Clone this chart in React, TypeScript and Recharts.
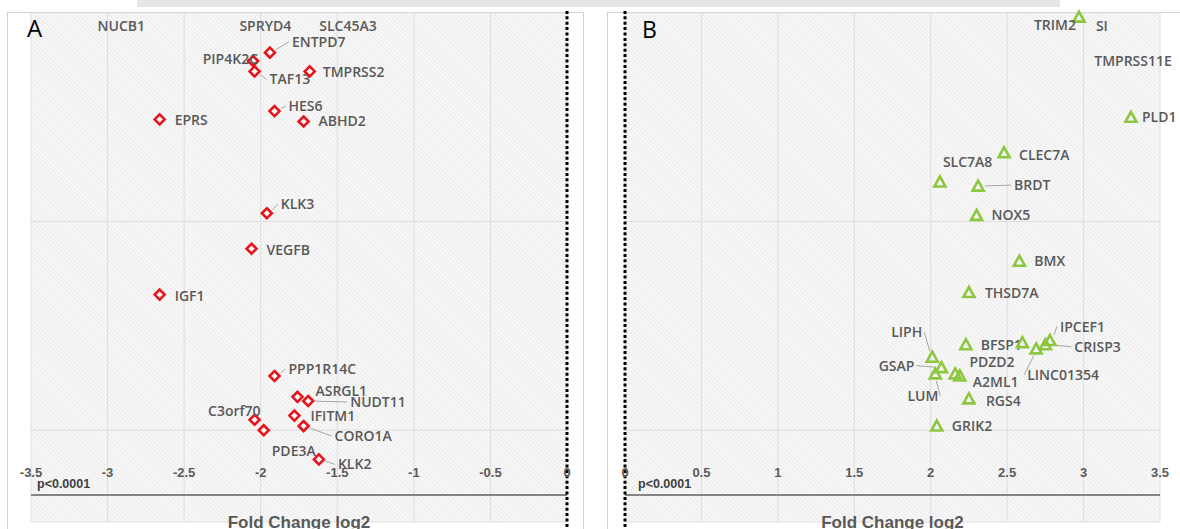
import { ScatterChart, Scatter, XAxis, YAxis, CartesianGrid, ReferenceLine } from 'recharts';

// Panel A: down-regulated genes
const genesA = ['ENTPD7', 'PIP4K2C', 'TAF13', 'HES6', 'EPRS', 'TMPRSS2', 'ABHD2', 'KLK3', 'VEGFB', 'IGF1', 'PPP1R14C', 'ASRGL1', 'NUDT11', 'IFITM1', 'CORO1A', 'KLK2', 'C3orf70', 'PDE3A'];
const foldA = [-1.94, -2.05, -2.04, -1.91, -2.66, -1.68, -1.72, -1.96, -2.06, -2.66, -1.91, -1.76, -1.69, -1.78, -1.72, -1.62, -2.04, -1.98];
const sigA = [2.81, 2.77, 2.72, 2.53, 2.49, 2.72, 2.48, 2.04, 1.87, 1.65, 1.26, 1.16, 1.14, 1.07, 1.02, 0.86, 1.05, 1.0];
const topGenesA = ['NUCB1', 'SPRYD4', 'SLC45A3'];
const topFoldA = [-2.91, -1.97, -1.43];
const topSigA = [2.94, 2.94, 2.94];

// Panel B: up-regulated genes
const genesB = ['TRIM2', 'PLD1', 'CLEC7A', 'SLC7A8', 'BRDT', 'NOX5', 'BMX', 'THSD7A', 'LIPH', 'BFSP1', 'PDZD2', 'LINC01354', 'CRISP3', 'IPCEF1', 'GSAP', 'LUM', '', 'A2ML1', 'RGS4', 'GRIK2'];
const foldB = [2.97, 3.31, 2.48, 2.06, 2.31, 2.3, 2.58, 2.25, 2.01, 2.23, 2.6, 2.69, 2.75, 2.78, 2.07, 2.03, 2.16, 2.19, 2.25, 2.04];
const sigB = [2.98, 2.5, 2.33, 2.19, 2.17, 2.03, 1.81, 1.66, 1.35, 1.41, 1.42, 1.39, 1.41, 1.43, 1.3, 1.27, 1.27, 1.26, 1.15, 1.02];
const topGenesB = ['SI', 'TMPRSS11E'];
const topFoldB = [3.12, 3.07];
const topSigB = [2.94, 2.77];

const ticksA = [-3.5, -3, -2.5, -2, -1.5, -1, -0.5, 0];
const ticksB = [0, 0.5, 1, 1.5, 2, 2.5, 3, 3.5];
const pCut = 0.69;

// label placement: [dx, dy, anchor, leader]
const labelPos: Record<string, [number, number, string, boolean]> = {
  ENTPD7: [22, -11, 'start', true],
  PIP4K2C: [5, -2, 'end', false],
  TAF13: [15, 8, 'start', true],
  HES6: [14, -5, 'start', true],
  EPRS: [15, 1, 'start', false],
  TMPRSS2: [13, 1, 'start', false],
  ABHD2: [15, 0, 'start', false],
  KLK3: [14, -9, 'start', true],
  VEGFB: [15, 1, 'start', false],
  IGF1: [15, 1, 'start', false],
  PPP1R14C: [14, -7, 'start', true],
  ASRGL1: [18, -6, 'start', false],
  NUDT11: [42, 1, 'start', true],
  IFITM1: [16, 0, 'start', false],
  CORO1A: [31, 10, 'start', true],
  KLK2: [19, 5, 'start', true],
  C3orf70: [6, -9, 'end', false],
  PDE3A: [8, 21, 'start', false],
  TRIM2: [-3, 8, 'end', false],
  PLD1: [11, 0, 'start', false],
  CLEC7A: [15, 2, 'start', false],
  SLC7A8: [3, -20, 'start', false],
  BRDT: [36, -1, 'start', true],
  NOX5: [15, 0, 'start', false],
  BMX: [15, 0, 'start', false],
  THSD7A: [16, 0, 'start', false],
  LIPH: [-10, -25, 'end', true],
  BFSP1: [15, 0, 'start', false],
  PDZD2: [-53, 19, 'start', false],
  LINC01354: [-9, 26, 'start', true],
  CRISP3: [29, 2, 'start', true],
  IPCEF1: [10, -14, 'start', true],
  GSAP: [-27, -2, 'end', true],
  LUM: [3, 22, 'end', true],
  A2ML1: [13, 6, 'start', false],
  RGS4: [17, 2, 'start', false],
  GRIK2: [15, 0, 'start', false],
};

const dataA = genesA.map((g, i) => ({ gene: g, x: foldA[i], y: sigA[i] }));
const dataB = genesB.map((g, i) => ({ gene: g, x: foldB[i], y: sigB[i] }));
const topA = topGenesA.map((g, i) => ({ gene: g, x: topFoldA[i], y: topSigA[i] }));
const topB = topGenesB.map((g, i) => ({ gene: g, x: topFoldB[i], y: topSigB[i] }));

const geneFont = { fontFamily: '"Open Sans", sans-serif', fontWeight: 600, fontSize: 14, fill: '#595959' };
const axisFont = '"Liberation Sans", Arial, sans-serif';

const GeneMark = (props: any) => {
  const { cx, cy, payload, kind } = props;
  const pos = labelPos[payload.gene];
  let marker;
  if (kind === 'diamond') {
    marker = (
      <polygon
        points={`${cx},${cy - 5} ${cx + 5},${cy} ${cx},${cy + 5} ${cx - 5},${cy}`}
        fill="#fff"
        stroke="#e8141c"
        strokeWidth={2.6}
      />
    );
  } else {
    marker = (
      <polygon
        points={`${cx},${cy - 5.5} ${cx + 5.5},${cy + 4.5} ${cx - 5.5},${cy + 4.5}`}
        fill="none"
        stroke="#8dc63f"
        strokeWidth={2.6}
      />
    );
  }
  if (!pos) return <g>{marker}</g>;
  const [dx, dy, anchor, leader] = pos;
  const len = Math.hypot(dx, dy) || 1;
  const ex = anchor === 'end' ? cx + dx + 2 : cx + dx - 3;
  return (
    <g>
      {leader && (
        <line x1={cx + (7 * dx) / len} y1={cy + (7 * dy) / len} x2={ex} y2={cy + dy} stroke="#a6a6a6" strokeWidth={1} />
      )}
      {marker}
      <text x={cx + dx} y={cy + dy + 5} textAnchor={anchor} {...geneFont}>
        {payload.gene}
      </text>
    </g>
  );
};

const TopLabel = (props: any) => {
  const { cx, cy, payload } = props;
  const anchor = payload.gene === 'TMPRSS11E' ? 'start' : 'middle';
  return (
    <text x={cx} y={cy + 5} textAnchor={anchor} {...geneFont}>
      {payload.gene}
    </text>
  );
};

const FoldTick = (props: any) => {
  const { x, payload } = props;
  return (
    <text x={x} y={477} textAnchor="middle" fontFamily={axisFont} fontWeight="bold" fontSize={13} fill="#5a5a5a">
      {payload.value}
    </text>
  );
};

const AxisTitle = (props: any) => {
  const { viewBox } = props;
  return (
    <text x={viewBox.x + viewBox.width / 2} y={528} textAnchor="middle" fontFamily={axisFont} fontWeight="bold" fontSize={17} fill="#595959">
      Fold Change log2
    </text>
  );
};

const PLabel = (props: any) => {
  const { viewBox, dx } = props;
  return (
    <text x={viewBox.x + dx} y={viewBox.y - 7} fontFamily={axisFont} fontWeight="bold" fontSize={12.5} fill="#404040">
      p&lt;0.0001
    </text>
  );
};

function Panel({ data, top, ticks, domain, margin, kind, pDx }: any) {
  return (
    <ScatterChart width={590} height={529} margin={margin}>
      <CartesianGrid stroke="#dedede" fill="url(#hatch)" fillOpacity={1} />
      <XAxis
        type="number"
        dataKey="x"
        domain={domain}
        ticks={ticks}
        interval={0}
        height={7}
        axisLine={false}
        tickLine={false}
        tick={<FoldTick />}
        label={<AxisTitle />}
      />
      <YAxis type="number" dataKey="y" domain={[0.56, 3]} ticks={[1, 2, 3]} hide />
      <ReferenceLine y={pCut} stroke="#858585" strokeWidth={2} label={<PLabel dx={pDx} />} />
      <ReferenceLine
        segment={[{ x: 0, y: 3.01 }, { x: 0, y: 0.5 }]}
        stroke="#000"
        strokeWidth={3}
        strokeDasharray="3 2.4"
        ifOverflow="visible"
      />
      <Scatter data={data} isAnimationActive={false} shape={(p: any) => <GeneMark {...p} kind={kind} />} />
      <Scatter data={top} isAnimationActive={false} shape={(p: any) => <TopLabel {...p} />} />
    </ScatterChart>
  );
}

export default function App() {
  return (
    <div style={{ position: 'absolute', left: 0, top: 0, width: 1180, height: 529, overflow: 'hidden', background: '#fff' }}>
      <svg width={0} height={0} style={{ position: 'absolute' }}>
        <defs>
          <pattern id="hatch" width={3} height={3} patternUnits="userSpaceOnUse" patternTransform="rotate(-45)">
            <rect width={3} height={3} fill="#f8f8f8" />
            <line x1={0} y1={0} x2={0} y2={3} stroke="#dfdfdf" strokeWidth={1} />
          </pattern>
        </defs>
      </svg>
      <div style={{ position: 'absolute', left: 137, top: 0, width: 923, height: 7, background: '#e6e6e6' }} />
      <div style={{ position: 'absolute', left: 7, top: 12, width: 575, height: 530, border: '1.5px solid #d3d3d3' }} />
      <div style={{ position: 'absolute', left: 607, top: 12, width: 600, height: 530, border: '1.5px solid #d3d3d3' }} />
      <div style={{ position: 'absolute', left: 0, top: 0 }}>
        <Panel data={dataA} top={topA} ticks={ticksA} domain={[-3.5, 0]} margin={{ top: 13, right: 23, bottom: 0, left: 31 }} kind="diamond" pDx={6} />
      </div>
      <div style={{ position: 'absolute', left: 590, top: 0 }}>
        <Panel data={dataB} top={topB} ticks={ticksB} domain={[0, 3.5]} margin={{ top: 13, right: 20, bottom: 0, left: 35 }} kind="triangle" pDx={13} />
      </div>
      <div style={{ position: 'absolute', left: 27, top: 11, fontFamily: '"Open Sans", sans-serif', fontSize: 24, color: '#000' }}>A</div>
      <div style={{ position: 'absolute', left: 642, top: 13, fontFamily: '"Open Sans", sans-serif', fontSize: 23, color: '#000' }}>B</div>
    </div>
  );
}
